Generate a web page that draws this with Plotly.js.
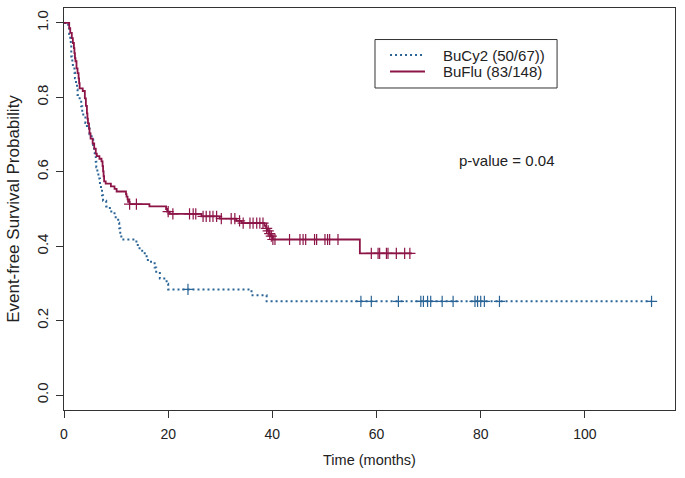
<!DOCTYPE html>
<html>
<head>
<meta charset="utf-8">
<script src="https://cdn.plot.ly/plotly-3.0.1.min.js"></script>
<style>
  html, body { margin: 0; padding: 0; background: #ffffff; }
  #chart { width: 685px; height: 478px; }
</style>
</head>
<body>
<div id="chart"></div>
<script>
// ---- Data (Kaplan-Meier step curves) ----
const bucy2Time = [0, 0.8, 1.0, 1.2, 1.3, 1.4, 1.6, 1.7, 2.0, 2.1, 2.3, 2.5, 2.6, 3.0, 3.3, 3.5, 3.7, 4.1, 4.4, 4.9,
  5.3, 5.6, 5.8, 5.9, 6.1, 6.2, 6.4, 6.6, 6.9, 7.1, 7.3, 7.5, 8.1, 8.8, 9.7, 10.4, 10.6, 10.8, 11.0,
  13.9, 14.5, 15.5, 16.1, 17.4, 17.7, 18.4, 19.7, 20.0, 36.0, 38.9, 112.8];
const bucy2Surv = [1.000, 0.985, 0.970, 0.955, 0.940, 0.910, 0.896, 0.881, 0.866, 0.851, 0.836, 0.821, 0.806, 0.791, 0.776, 0.761, 0.746, 0.731, 0.716, 0.701,
  0.687, 0.672, 0.657, 0.642, 0.627, 0.612, 0.597, 0.582, 0.567, 0.552, 0.537, 0.522, 0.507, 0.493, 0.478, 0.463, 0.448, 0.433, 0.418,
  0.403, 0.388, 0.373, 0.358, 0.343, 0.328, 0.313, 0.299, 0.284, 0.268, 0.252, 0.252];
const bucy2Censor = [23.8, 57.0, 59.0, 64.2, 68.5, 69.0, 69.8, 70.4, 72.6, 74.7, 78.9, 79.4, 80.0, 80.7, 83.6, 112.8];

const bufluTime = [0, 1.0, 1.2, 1.5, 1.7, 1.9, 2.0, 2.1, 2.2, 2.4, 2.6, 2.8, 2.9, 3.0, 3.6, 4.0, 4.2, 4.4, 4.5, 4.6, 4.8, 4.9,
  5.1, 5.5, 5.8, 6.1, 6.3, 6.8, 7.2, 7.4, 7.5, 7.6, 7.7, 8.0, 9.0, 9.7, 10.1, 11.9, 12.0, 12.2, 12.3, 12.6,
  16.4, 19.6, 19.8, 20.3, 26.4, 29.9, 33.1, 34.1, 38.5, 38.8, 39.1, 39.4, 39.7, 40.1, 56.8, 66.8];
const bufluSurv = [1.000, 0.986, 0.973, 0.959, 0.946, 0.932, 0.919, 0.905, 0.897, 0.878, 0.865, 0.851, 0.838, 0.824, 0.817, 0.797, 0.777, 0.757, 0.743, 0.730, 0.716, 0.703,
  0.689, 0.676, 0.662, 0.649, 0.642, 0.635, 0.628, 0.615, 0.601, 0.588, 0.574, 0.568, 0.561, 0.554, 0.547, 0.540, 0.533, 0.526, 0.519, 0.513,
  0.507, 0.500, 0.493, 0.487, 0.480, 0.474, 0.468, 0.462, 0.455, 0.448, 0.441, 0.434, 0.427, 0.418, 0.381, 0.381];
const bufluCensor = [12.6, 13.9, 20.0, 20.9, 24.1, 24.8, 25.3, 26.7, 27.3, 28.0, 28.6, 29.3, 30.2, 32.1, 32.8, 33.7, 34.4,
  35.7, 36.3, 37.0, 37.6, 38.2, 38.9, 39.2, 39.5, 39.8, 40.1, 40.5, 43.3, 45.3, 45.9, 46.4, 48.1, 48.5, 50.1, 50.6, 51.0, 52.6,
  59.0, 60.3, 60.6, 61.9, 62.2, 63.8, 65.4, 66.4];

const groupNames = ["BuCy2 (50/67))", "BuFlu (83/148)"];
const xTicks = [0, 20, 40, 60, 80, 100];
const yTicks = [0, 0.2, 0.4, 0.6, 0.8, 1.0];
const yTickText = ["0.0", "0.2", "0.4", "0.6", "0.8", "1.0"];
const pText = "p-value = 0.04";
const pPos = [85, 0.63];

// step-function lookup: survival just after time t
function survAt(times, surv, t) {
  let s = surv[0];
  for (let i = 0; i < times.length; i++) { if (times[i] <= t) s = surv[i]; }
  return s;
}

const colBuCy2 = "#2a6496";
const colBuFlu = "#8c1447";
const FONT = "Liberation Sans, Arial, sans-serif";
const DOT = "2px,3px";

const traces = [
  { x: bucy2Time, y: bucy2Surv, mode: "lines", name: groupNames[0], showlegend: false,
    line: { shape: "hv", color: colBuCy2, width: 2, dash: DOT } },
  { x: bufluTime, y: bufluSurv, mode: "lines", name: groupNames[1], showlegend: false,
    line: { shape: "hv", color: colBuFlu, width: 1.8 } },
  { x: bucy2Censor, y: bucy2Censor.map(t => survAt(bucy2Time, bucy2Surv, t)), mode: "markers", showlegend: false,
    marker: { symbol: "cross-thin-open", size: 8, color: colBuCy2, line: { color: colBuCy2, width: 1.2 } }, hoverinfo: "skip" },
  { x: bufluCensor, y: bufluCensor.map(t => survAt(bufluTime, bufluSurv, t)), mode: "markers", showlegend: false,
    marker: { symbol: "cross-thin-open", size: 8, color: colBuFlu, line: { color: colBuFlu, width: 1.2 } }, hoverinfo: "skip" }
];

const axisCommon = {
  showgrid: false, zeroline: false, showline: true, mirror: true,
  linecolor: "#333", linewidth: 1, ticks: "outside", ticklen: 7, tickcolor: "#333", tickwidth: 1
};

// legend box (paper coordinates), drawn as a classic R-style legend
const legBox = { x0: 0.509, x1: 0.807, y0: 0.801, y1: 0.9216 };
const legRowsY = [0.8830, 0.8420];
const legLineX = [0.5336, 0.5908];
const legTextX = 0.617;

const layout = {
  width: 685, height: 478,
  margin: { l: 64, r: 10, t: 8, b: 68 },
  paper_bgcolor: "#ffffff", plot_bgcolor: "#ffffff",
  font: { family: FONT, size: 14, color: "#222" },
  xaxis: Object.assign({}, axisCommon, {
    range: [0, 117.3], tickvals: xTicks, ticktext: xTicks.map(String),
    ticklabelstandoff: 4,
    tickfont: { family: FONT, size: 14, color: "#222" },
    title: { text: "Time (months)", font: { family: FONT, size: 14.5, color: "#222" }, standoff: 14 }
  }),
  yaxis: Object.assign({}, axisCommon, {
    range: [-0.04, 1.04], tickvals: yTicks, ticktext: yTickText, tickangle: -90,
    ticklabelstandoff: 2,
    tickfont: { family: FONT, size: 15, color: "#222" },
    title: { text: "Event-free Survival Probability", font: { family: FONT, size: 17, color: "#222" }, standoff: 10 }
  }),
  showlegend: false,
  shapes: [
    { type: "rect", xref: "paper", yref: "paper", x0: legBox.x0, x1: legBox.x1, y0: legBox.y0, y1: legBox.y1,
      line: { color: "#333", width: 1 }, fillcolor: "#ffffff" },
    { type: "line", xref: "paper", yref: "paper", x0: legLineX[0], x1: legLineX[1], y0: legRowsY[0], y1: legRowsY[0],
      line: { color: colBuCy2, width: 2, dash: DOT } },
    { type: "line", xref: "paper", yref: "paper", x0: legLineX[0], x1: legLineX[1], y0: legRowsY[1], y1: legRowsY[1],
      line: { color: colBuFlu, width: 1.8 } }
  ],
  annotations: [
    { x: pPos[0], y: pPos[1], xref: "x", yref: "y", text: pText, showarrow: false,
      font: { family: FONT, size: 15, color: "#222" } },
    { x: legTextX, y: legRowsY[0], xref: "paper", yref: "paper", xanchor: "left", yanchor: "middle",
      text: groupNames[0], showarrow: false, font: { family: FONT, size: 15, color: "#222" } },
    { x: legTextX, y: legRowsY[1], xref: "paper", yref: "paper", xanchor: "left", yanchor: "middle",
      text: groupNames[1], showarrow: false, font: { family: FONT, size: 15, color: "#222" } }
  ]
};

Plotly.newPlot("chart", traces, layout, { displayModeBar: false, staticPlot: true });
</script>
</body>
</html>
